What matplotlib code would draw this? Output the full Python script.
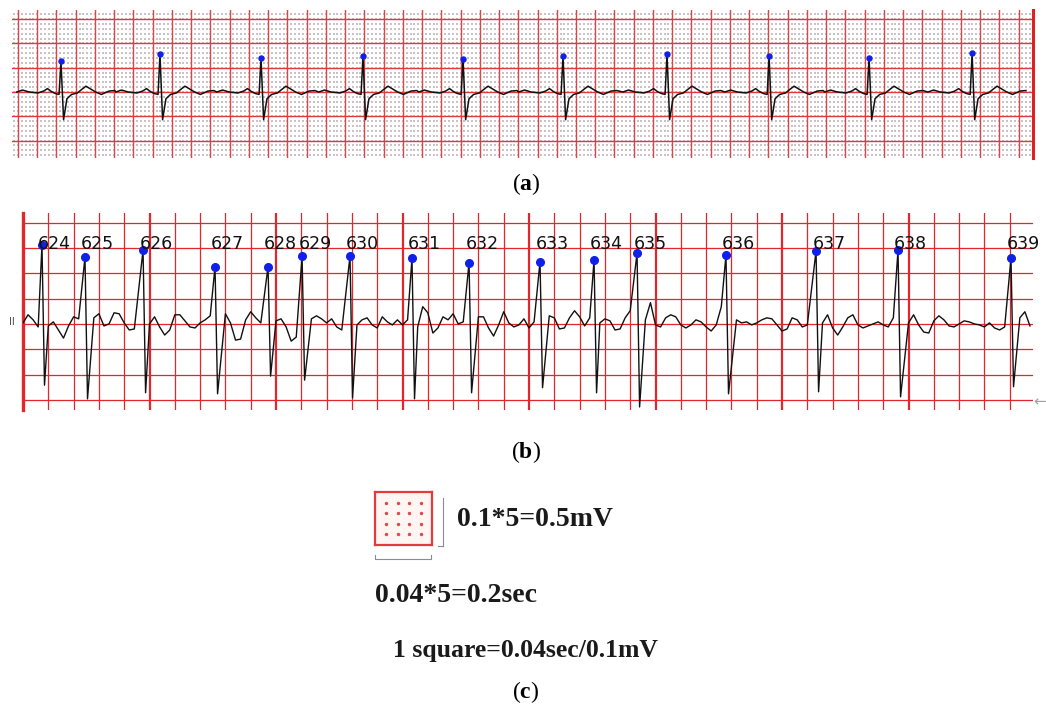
import numpy as np
import matplotlib.pyplot as plt

plt.rcParams['mathtext.fontset'] = 'custom'
plt.rcParams['mathtext.rm'] = 'Liberation Serif'
plt.rcParams['mathtext.bf'] = 'Liberation Serif:bold'

W, H = 1046, 710
RED = '#e2262b'
BLUE = '#1020e8'

# ---- (a) clean rhythm strip: R peaks (s) and heights (mV)
a_r_time = [0.447, 1.476, 2.526, 3.586, 4.626, 5.665, 6.746, 7.807, 8.846, 9.917]
a_r_amp = [0.63, 0.78, 0.70, 0.74, 0.68, 0.74, 0.78, 0.74, 0.71, 0.80]
# one beat around its R peak: offset (s) and level (mV), None = R height
a_tpl_dt = [-0.46, -0.40, -0.33, -0.24, -0.18, -0.14, -0.10, -0.06, -0.02, 0.0,
            0.027, 0.062, 0.11, 0.17, 0.22, 0.26, 0.31, 0.36, 0.42, 0.50, 0.56]
a_tpl_mv = [0.0, 0.04, 0.0, -0.02, 0.02, 0.07, 0.01, -0.03, -0.05, None,
            -0.57, -0.14, -0.05, -0.02, 0.06, 0.12, 0.06, 0.0, -0.05, 0.02, 0.03]

# ---- (b) noisy lead II strip with numbered beats
b_labels = ['624', '625', '626', '627', '628', '629', '630', '631',
            '632', '633', '634', '635', '636', '637', '638', '639']
b_r_time = [0.150, 0.490, 0.949, 1.518, 1.937, 2.206, 2.585, 3.075,
            3.526, 4.087, 4.514, 4.854, 5.557, 6.269, 6.917, 7.810]
b_r_amp = [1.56, 1.32, 1.46, 1.13, 1.13, 1.34, 1.34, 1.30,
           1.21, 1.23, 1.26, 1.40, 1.36, 1.44, 1.46, 1.30]
b_s_amp = [-1.21, -1.48, -1.36, -1.38, -1.03, -1.11, -1.46, -1.48,
           -1.36, -1.26, -1.36, -1.64, -1.38, -1.34, -1.44, -1.24]
# baseline read every 0.04 s (one small square), mV
b_base = [0.02, 0.18, 0.08, -0.06, 0.0, -0.04, 0.04, -0.12, -0.28, -0.04,
          0.14, 0.10, 0.10, 0.0, 0.12, 0.20, -0.04, 0.0, 0.22, 0.20,
          0.02, -0.12, -0.10, 0.02, 0.0, 0.0, 0.14, -0.06, -0.22, -0.12,
          0.18, 0.18, 0.06, -0.06, -0.08, 0.02, 0.08, 0.16, 0.0, -0.02,
          0.20, 0.02, -0.32, -0.30, 0.08, 0.24, 0.12, 0.02, -0.02, 0.0,
          0.06, 0.10, -0.06, -0.34, -0.26, 0.0, 0.0, 0.10, 0.16, 0.10,
          0.02, 0.10, -0.06, -0.12, 0.14, 0.0, -0.02, 0.08, 0.12, -0.02,
          -0.08, 0.14, 0.04, -0.02, 0.08, -0.02, 0.08, 0.0, -0.06, 0.34,
          0.22, -0.18, -0.08, 0.14, 0.08, 0.20, 0.0, 0.04, 0.10, 0.0,
          0.14, 0.14, -0.08, -0.24, -0.02, 0.24, 0.02, -0.06, -0.02, 0.10,
          -0.08, 0.04, 0.10, 0.0, 0.16, 0.12, -0.10, -0.08, 0.12, 0.26,
          0.14, -0.04, 0.12, 0.0, 0.02, 0.10, 0.06, -0.12, -0.10, 0.12,
          0.26, 0.30, 0.0, 0.08, 0.42, -0.02, -0.06, 0.12, 0.18, 0.14,
          -0.02, -0.08, -0.02, 0.08, 0.04, -0.06, -0.14, -0.02, 0.34, 0.0,
          -0.02, 0.08, 0.02, 0.04, -0.02, 0.02, 0.08, 0.12, 0.10, -0.02,
          -0.14, -0.10, 0.12, 0.08, -0.06, -0.02, 0.04, 0.0, 0.02, 0.18,
          -0.08, -0.22, -0.06, 0.12, 0.18, -0.02, -0.08, -0.04, 0.0, 0.04,
          -0.02, -0.06, 0.12, 0.0, 0.0, 0.02, 0.18, -0.02, -0.16, -0.18,
          0.06, 0.16, 0.08, -0.04, -0.06, 0.0, 0.06, 0.04, 0.0, -0.02,
          -0.06, 0.02, -0.08, -0.12, -0.06, 0.10, 0.0, 0.12, 0.24, -0.04]

# ---- (c) paper scale
small_sec, small_mv = 0.04, 0.1
n_small = 5


def px_box(x0, y0, x1, y1):
    return [x0 / W, 1 - y1 / H, (x1 - x0) / W, (y1 - y0) / H]


fig = plt.figure(figsize=(W / 100, H / 100), dpi=100)

# ================= (a)
ax = fig.add_axes(px_box(12, 10, 1033, 158))
ax.set_facecolor('#fcfafa')
ax.set_xlim(-0.062, 10.55)
ax.set_ylim(-1.36, 1.69)
big_t, big_v = small_sec * n_small, small_mv * n_small
for x in np.arange(0, 10.45, big_t):
    ax.axvline(x, color='#dc4448', lw=1.0, zorder=1)
for y in np.arange(-1.0, 1.6, big_v):
    ax.axhline(y, color='#dc3a3e', lw=1.0, zorder=1)
gx, gy = np.meshgrid(np.arange(-0.04, 10.55, small_sec), np.arange(-1.3, 1.7, small_mv))
ax.scatter(gx.ravel(), gy.ravel(), s=1.0, c='#cbc2c7', marker='s', lw=0, zorder=0.5)
ax.axvline(10.55, color='#e02020', lw=2.2, clip_on=False)

ta, va = [], []
for tr, amp in zip(a_r_time, a_r_amp):
    ta += [tr + d for d in a_tpl_dt]
    va += [amp if m is None else m for m in a_tpl_mv]
ax.plot(ta, va, color='#111111', lw=1.1, zorder=3)
ax.plot(a_r_time, a_r_amp, 'o', color=BLUE, ms=3.6, zorder=4)
ax.axis('off')

# ================= (b)
ax = fig.add_axes(px_box(23, 213, 1033, 410))
ax.set_xlim(0, 7.984)
ax.set_ylim(-1.70, 2.19)
for i, x in enumerate(np.arange(0, 7.9, big_t)):
    lw = 1.6 if i % 5 == 0 else 0.9
    ax.axvline(x, color=RED, lw=lw, zorder=1)
ax.axvline(0, color=RED, lw=2.4, zorder=1, clip_on=False)
for y in np.arange(-1.5, 2.1, big_v):
    ax.axhline(y, color=RED, lw=0.9, zorder=1)

tb = np.arange(len(b_base)) * small_sec
keep = np.ones(len(tb), bool)
for tr in b_r_time:
    keep &= ~((tb > tr - 0.03) & (tb < tr + 0.045))
t_all = np.concatenate([tb[keep], b_r_time, np.array(b_r_time) + 0.02])
v_all = np.concatenate([np.array(b_base)[keep], b_r_amp, b_s_amp])
order = np.argsort(t_all)
ax.plot(t_all[order], v_all[order], color='#111111', lw=1.0, zorder=3)
ax.plot(b_r_time, b_r_amp, 'o', color=BLUE, ms=5.5, zorder=4)
for lab, tr in zip(b_labels, b_r_time):
    ax.text(tr - 0.03, 1.48, lab, fontsize=12.5, ha='left', va='baseline',
            color='#111111', zorder=5)
ax.text(-0.087, 0.04, 'II', fontsize=7, color='#444444', ha='center', va='center',
        clip_on=False)
ax.text(8.04, -1.54, '\u2190', fontsize=11, color='#a0a0a0', ha='center', va='center',
        clip_on=False)
ax.axis('off')

# ================= (c)
ax = fig.add_axes(px_box(375, 492, 432, 545))
ax.set_xlim(0, big_t)
ax.set_ylim(0, big_v)
ax.set_facecolor('#fff6f4')
for s in ax.spines.values():
    s.set_color('#e53a3a')
    s.set_linewidth(1.6)
ax.set_xticks([])
ax.set_yticks([])
dx, dy = np.meshgrid(np.arange(1, n_small) * small_sec, np.arange(1, n_small) * small_mv)
ax.scatter(dx.ravel(), dy.ravel(), s=6, c='#e04848', lw=0)
gray = '#8c8c8c'
ax.plot([1.19, 1.19], [-0.02, 0.89], color=gray, lw=0.8, transform=ax.transAxes, clip_on=False)
ax.plot([1.1, 1.19], [-0.02, -0.02], color=gray, lw=0.8, transform=ax.transAxes, clip_on=False)
ax.plot([0.0, 0.0, 0.98, 0.98], [-0.19, -0.264, -0.264, -0.19], color=gray, lw=0.8,
        transform=ax.transAxes, clip_on=False)

serif = dict(family='Liberation Serif', weight='bold', color='#1a1a1a')
fig.text(457 / W, 1 - 520 / H, '0.1*5=0.5mV', ha='left', va='center', fontsize=20, **serif)
fig.text(375 / W, 1 - 595 / H, '0.04*5=0.2sec', ha='left', va='center', fontsize=20, **serif)
fig.text(393 / W, 1 - 650 / H, '1 square=0.04sec/0.1mV', ha='left', va='center',
         fontsize=18.5, **serif)

for lab, yy in [('a', 184), ('b', 452), ('c', 692)]:
    fig.text(526 / W, 1 - yy / H, r'$(\mathbf{%s})$' % lab, ha='center', va='center',
             fontsize=17)

fig.savefig('out.png', dpi=100)
